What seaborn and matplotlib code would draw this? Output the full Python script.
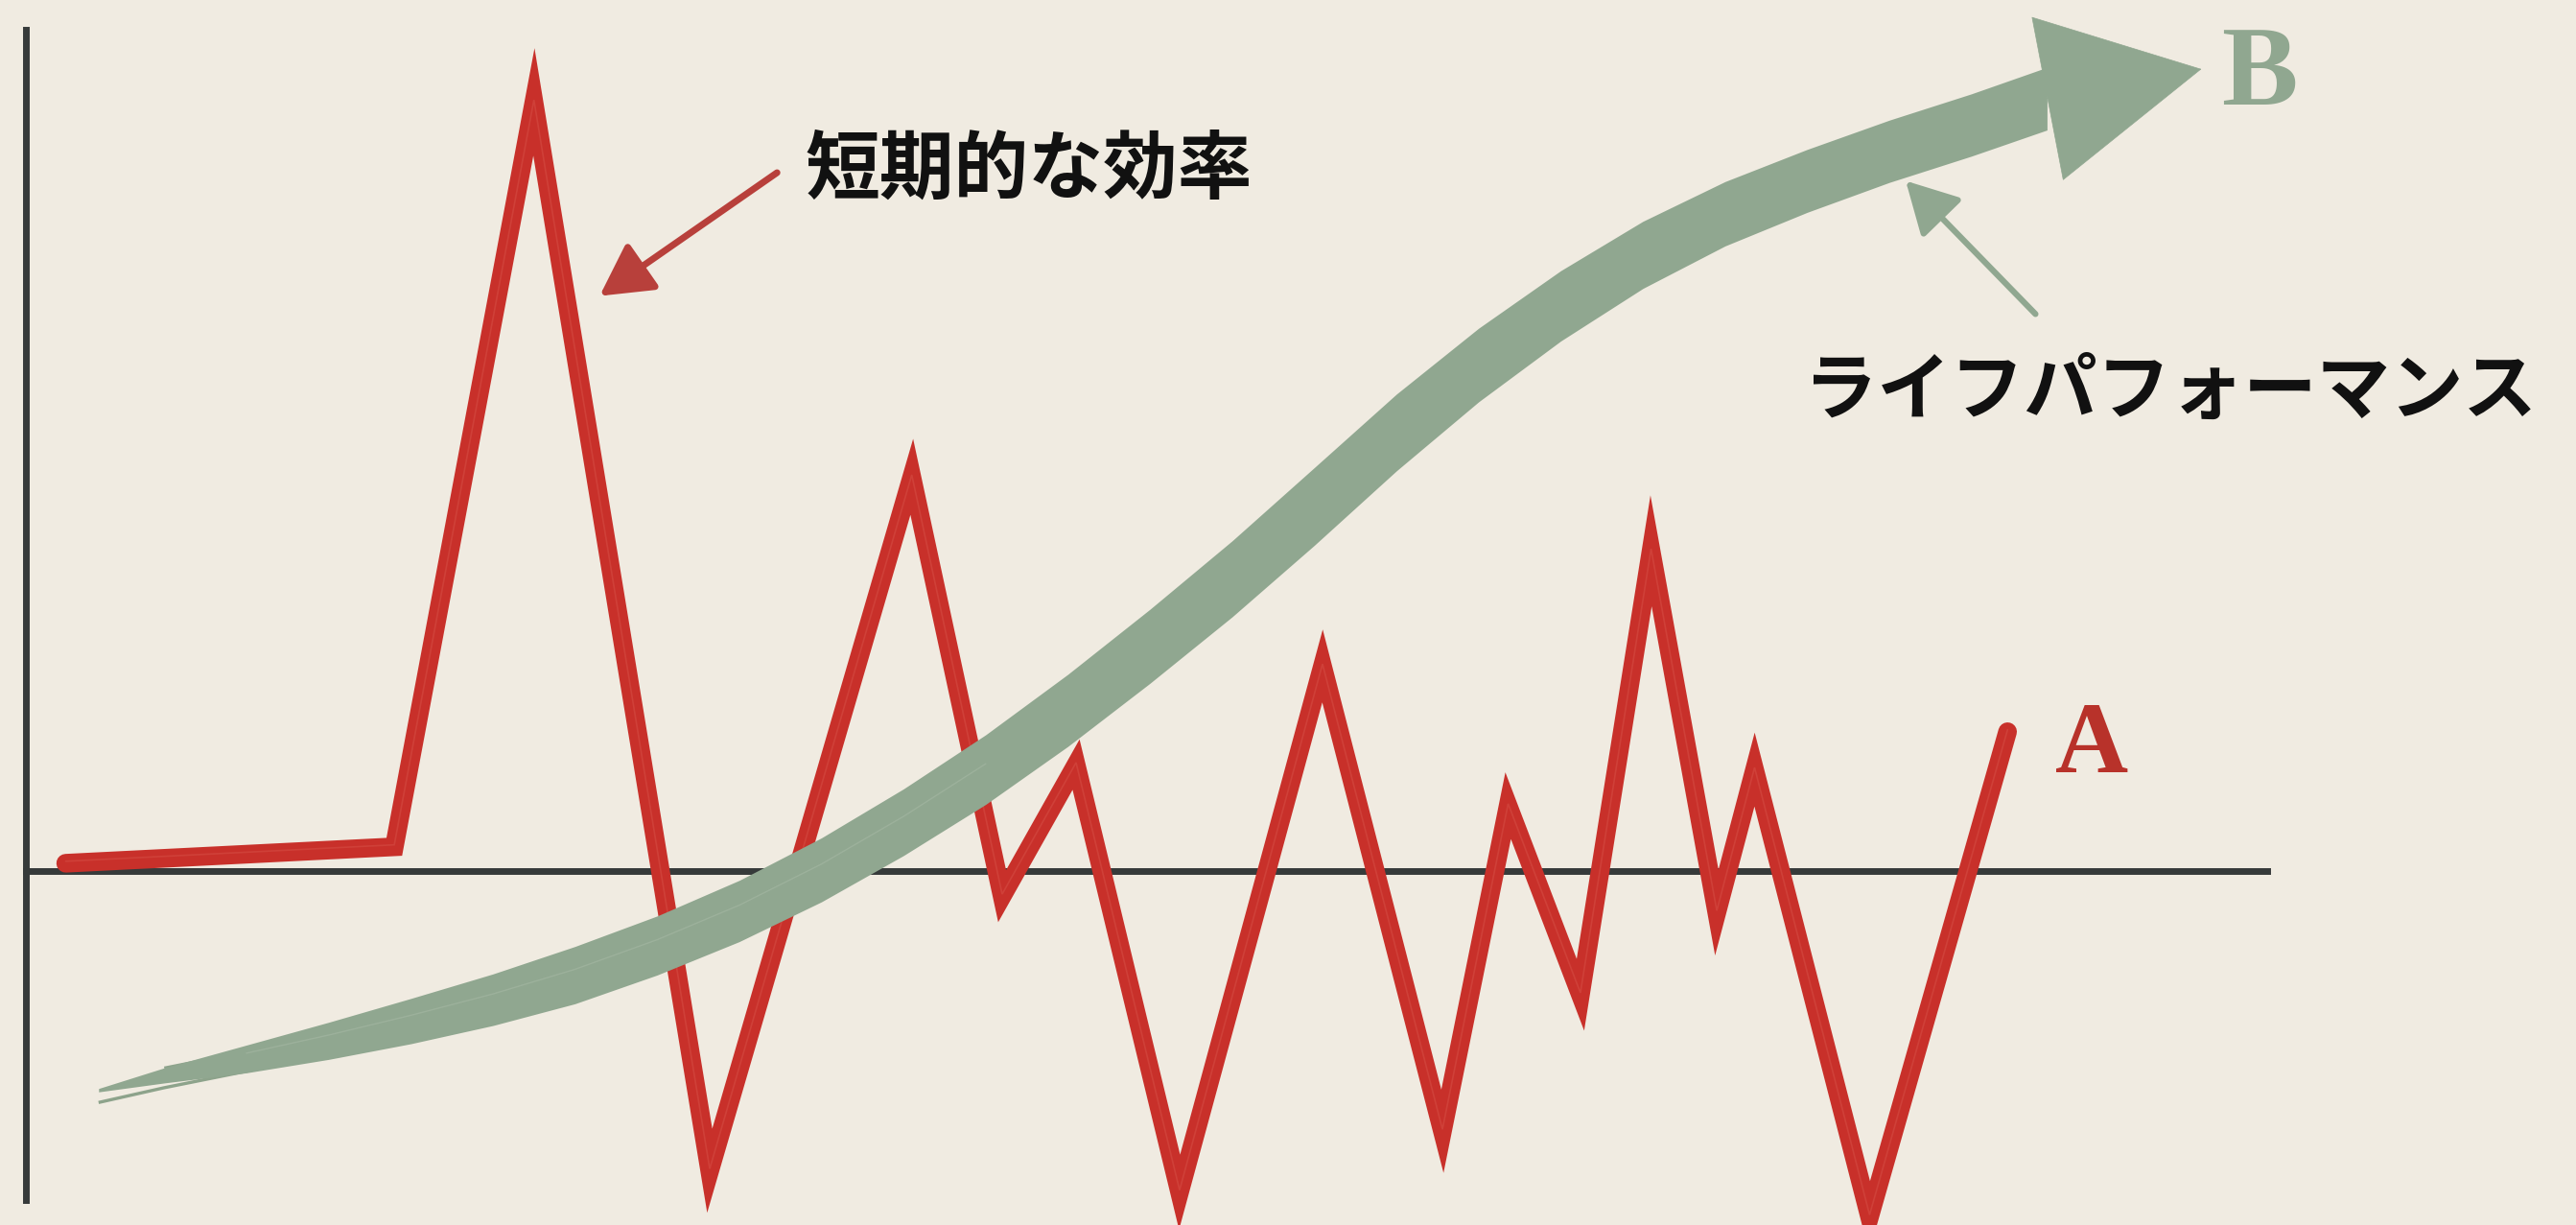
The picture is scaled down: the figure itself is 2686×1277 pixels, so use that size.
"""Short-term efficiency vs. life performance sketch chart."""

import matplotlib
import numpy as np

matplotlib.use("Agg")
import matplotlib.pyplot as plt  # noqa: E402
import seaborn as sns  # noqa: E402
from matplotlib import transforms  # noqa: E402

# series A: short-term efficiency (jagged, volatile)
a_x = [4.0, 24.0, 32.5, 43.2, 55.5, 61.0, 65.5, 71.8, 80.5, 87.8,
       91.8, 96.2, 100.5, 104.5, 106.8, 113.8, 122.2]
a_y = [0.5, 1.5, 46.8, -18.2, 24.0, -1.5, 6.5, -19.5, 12.5, -15.8,
       4.0, -7.5, 19.5, -2.5, 6.2, -21.0, 8.5]

# series B: life performance (steady rise), last point is the arrow tip
b_x = [6.0, 10, 15, 20, 25, 30, 35, 40, 45, 50, 55, 60, 65, 70, 75, 80,
       85, 90, 95, 100, 105, 110, 115, 120, 124.6, 134.0]
b_y = [-13.3, -12.4, -11.4, -10.3, -9.1, -7.8, -6.3, -4.5, -2.4, 0.1, 3.0,
       6.2, 9.8, 13.7, 17.8, 22.2, 26.7, 30.8, 34.4, 37.5, 40.0, 42.0,
       43.8, 45.4, 47.0, 48.8]

# axis extents
y_axis_x = 1.6
y_axis_range = (-20.0, 51.2)
x_axis_range = (1.6, 138.0)

label_short = "短期的な効率"
label_life = "ライフパフォーマンス"
series_a_name = "A"
series_b_name = "B"

BG = "#f0ebe1"
RED = "#c8302a"
GREEN = "#90a790"
INK = "#363a3a"

sns.set_theme(style="white", rc={"axes.facecolor": BG, "figure.facecolor": BG})
plt.rcParams["font.family"] = ["Noto Sans CJK JP", "DejaVu Sans"]

fig = plt.figure(figsize=(26.86, 12.77), dpi=100)
ax = fig.add_axes([0, 0, 1, 1])
ax.set_xlim(0, 156.8)
ax.set_ylim(-21.5, 53.0)
ax.set_xticks([])
ax.set_yticks([])

# axes drawn as spines through the origin
for side in ("top", "right"):
    ax.spines[side].set_visible(False)
ax.spines["left"].set_position(("data", y_axis_x))
ax.spines["left"].set_bounds(*y_axis_range)
ax.spines["bottom"].set_position(("data", 0))
ax.spines["bottom"].set_bounds(*x_axis_range)
for side in ("left", "bottom"):
    ax.spines[side].set_color(INK)
    ax.spines[side].set_linewidth(5)
    ax.spines[side].set_zorder(1)


def shifted(dy):
    return transforms.offset_copy(ax.transData, fig=fig, x=0, y=dy, units="points")


# --- series A: red zigzag
sns.lineplot(x=a_x, y=a_y, ax=ax, color=RED, linewidth=14, sort=False, zorder=2)
ax.lines[-1].set_solid_joinstyle("miter")
ax.plot(a_x, a_y, color="#e8796d", lw=1.2, alpha=0.22, zorder=2.1,
        transform=shifted(1.5), solid_joinstyle="miter")

# --- series B: green brush stroke, filled band of tapering width
bx = np.asarray(b_x[:-1])
by = np.asarray(b_y[:-1])
half_w = np.interp(bx, [6, 10, 16, 24, 34, 60, 124.6],
                   [0.1, 0.45, 0.9, 1.3, 1.65, 1.75, 1.8])
half_w = half_w * np.sqrt(1 + np.gradient(by, bx) ** 2)
ax.fill_between(bx, by - half_w, by + half_w, color=GREEN, lw=0, zorder=3)

# bristles that stick out of the tapered tail (drawn beneath the band)
for off, start, lw, col in [(-0.75, 0, 2.4, "#829b82"), (-0.2, 1, 2.6, "#8aa38a"),
                            (0.45, 1, 2.2, "#829b82"), (0.95, 3, 1.8, "#8aa38a")]:
    ax.plot(bx[start:9], by[start:9] + off, color=col, lw=lw, alpha=0.9,
            zorder=2.9, solid_capstyle="butt")
ax.plot(bx[2:12], by[2:12] + 0.35, color="#b9c8b6", lw=1.0, alpha=0.3,
        zorder=3.2)

ax.annotate("", xy=(b_x[-1], b_y[-1]), xytext=(b_x[-2], b_y[-2]),
            arrowprops=dict(arrowstyle="-|>,head_length=11.7,head_width=6.2",
                            mutation_scale=10, color=GREEN, lw=0.5,
                            shrinkA=0, shrinkB=0),
            zorder=3)

# --- labels and callout arrows
ax.text(49.0, 42.6, label_short, fontsize=56, fontweight="bold",
        color="#111111", ha="left", va="center", zorder=4)
ax.annotate("", xy=(36.5, 35.0), xytext=(47.3, 42.5),
            arrowprops=dict(arrowstyle="-|>,head_length=3.3,head_width=1.8",
                            mutation_scale=10, color="#b8403b", lw=5.0,
                            shrinkA=0, shrinkB=0),
            zorder=4)

ax.text(109.8, 29.2, label_life, fontsize=55, fontweight="bold",
        color="#111111", ha="left", va="center", zorder=4)
ax.annotate("", xy=(116.0, 42.0), xytext=(123.9, 33.9),
            arrowprops=dict(arrowstyle="-|>,head_length=3.3,head_width=1.8",
                            mutation_scale=10, color=GREEN, lw=4.5,
                            shrinkA=0, shrinkB=0),
            zorder=4)

ax.text(a_x[-1] + 5.1, 7.5, series_a_name, fontsize=76, fontweight="bold",
        color="#b8322a", family="Liberation Serif", ha="center", va="center",
        zorder=4)
ax.text(b_x[-1] + 3.5, 48.3, series_b_name, fontsize=86, fontweight="bold",
        color=GREEN, family="Liberation Serif", ha="center", va="center",
        zorder=4)

fig.savefig("out.png", dpi=100, facecolor=BG)
